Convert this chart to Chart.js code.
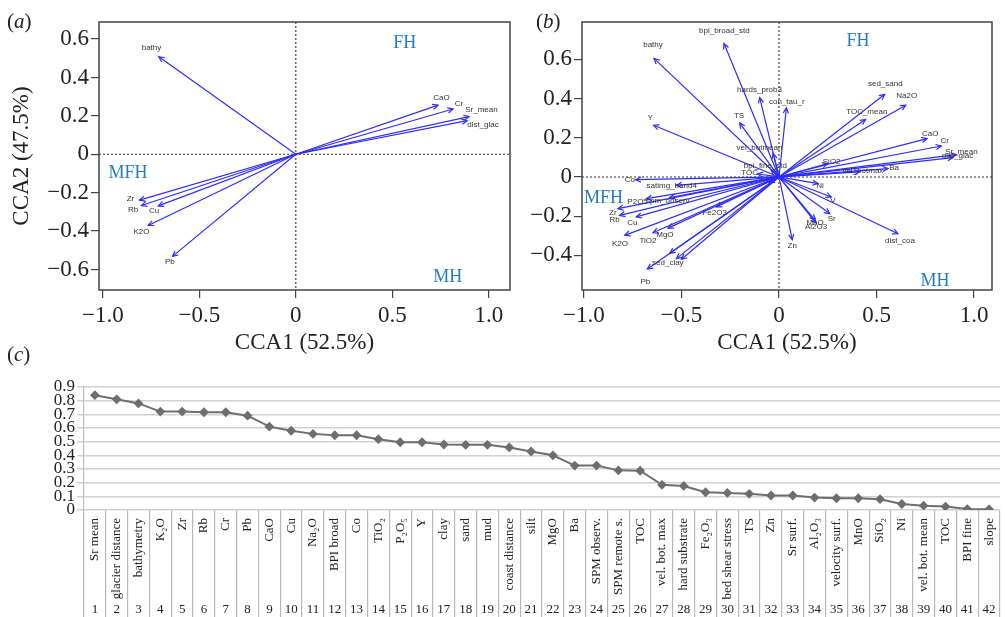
<!DOCTYPE html>
<html>
<head>
<meta charset="utf-8">
<script src="https://cdn.jsdelivr.net/npm/chart.js@4.4.0/dist/chart.umd.min.js"></script>
<style>
body { margin: 0; background: #fff; width: 1006px; height: 617px; overflow: hidden; position: relative; font-family: "Liberation Serif", serif; }
.pan { position: absolute; }
.tag { position: absolute; font-size: 21px; color: #222; line-height: 1; }
</style>
</head>
<body>
<canvas class="pan" id="ca" width="520" height="360" style="left:0;top:0"></canvas>
<canvas class="pan" id="cb" width="491" height="360" style="left:515px;top:0"></canvas>
<canvas class="pan" id="cc" width="1006" height="242" style="left:0;top:375px"></canvas>
<div class="tag" style="left:7px;top:11px">(<i>a</i>)</div>
<div class="tag" style="left:536px;top:11px">(<i>b</i>)</div>
<div class="tag" style="left:7px;top:344px">(<i>c</i>)</div>
<script>
// panel (a) - CCA biplot, selected variables
const aNames = ['bathy', 'CaO', 'Cr', 'Sr_mean', 'dist_glac', 'Zr', 'Rb', 'Cu', 'K2O', 'Pb']
const aTipX = [-0.71, 0.737, 0.815, 0.898, 0.888, -0.81, -0.80, -0.713, -0.765, -0.639]
const aTipY = [0.508, 0.256, 0.236, 0.196, 0.175, -0.239, -0.267, -0.269, -0.371, -0.532]
const aLabX = [-0.748, 0.755, 0.846, 0.962, 0.97, -0.857, -0.843, -0.734, -0.80, -0.653]
const aLabY = [0.555, 0.296, 0.262, 0.23, 0.152, -0.234, -0.29, -0.295, -0.405, -0.56]

// panel (b) - CCA biplot, all variables
const bNames = ['bpi_broad_std', 'bathy', 'hards_prob3', 'con_tau_r', 'TS', 'Y', 'vel_botmean', 'bpi_fine_std', 'TOC',
  'sed_sand', 'Na2O', 'TOC_mean', 'CaO', 'Cr', 'Sr_mean', 'dist_glac', 'SiO2', 'vel_botmax', 'Ba',
  'Ni', 'V', 'Sr', 'MnO', 'Al2O3', 'dist_coa', 'Zn', '',
  'Co', 'satimg_band4', 'spm_observ', 'P2O5', 'Zr', 'Rb', 'Cu', 'K2O', 'TiO2', 'MgO', 'Fe2O3', 'sed_clay', '', '', 'Pb']
const bTipX = [-0.282, -0.641, -0.099, 0.038, -0.202, -0.643, -0.03, -0.04, -0.11,
  0.542, 0.65, 0.444, 0.759, 0.832, 0.909, 0.892, 0.25, 0.414, 0.559,
  0.2, 0.268, 0.26, 0.185, 0.19, 0.61, 0.068, -0.05,
  -0.735, -0.526, -0.56, -0.68, -0.826, -0.817, -0.732, -0.791, -0.646, -0.569, -0.321, -0.526, -0.56, -0.50, -0.675]
const bTipY = [0.681, 0.605, 0.405, 0.353, 0.276, 0.264, 0.12, 0.035, 0.015,
  0.422, 0.366, 0.293, 0.196, 0.158, 0.114, 0.099, 0.068, 0.026, 0.043,
  -0.034, -0.102, -0.187, -0.22, -0.235, -0.29, -0.32, -0.03,
  -0.014, -0.043, -0.105, -0.111, -0.162, -0.196, -0.204, -0.298, -0.285, -0.261, -0.153, -0.417, -0.39, -0.42, -0.47]
const bLabX = [-0.28, -0.646, -0.10, 0.04, -0.205, -0.66, -0.1, -0.07, -0.15,
  0.545, 0.655, 0.45, 0.775, 0.85, 0.935, 0.915, 0.27, 0.43, 0.59,
  0.21, 0.277, 0.27, 0.185, 0.19, 0.62, 0.068, 0,
  -0.765, -0.55, -0.57, -0.725, -0.852, -0.843, -0.752, -0.815, -0.672, -0.585, -0.33, -0.57, 0, 0, -0.685]
const bLabY = [0.745, 0.673, 0.443, 0.383, 0.31, 0.30, 0.148, 0.055, 0.02,
  0.478, 0.412, 0.332, 0.222, 0.184, 0.13, 0.108, 0.077, 0.03, 0.046,
  -0.046, -0.12, -0.213, -0.232, -0.255, -0.328, -0.352, 0,
  -0.017, -0.046, -0.12, -0.128, -0.185, -0.22, -0.235, -0.343, -0.327, -0.295, -0.185, -0.44, 0, 0, -0.533]

const quadNames = ['FH', 'MFH', 'MH']
const aQuadX = [0.565, -0.87, 0.788]
const aQuadY = [0.58, -0.097, -0.64]
const bQuadX = [0.405, -0.90, 0.80]
const bQuadY = [0.694, -0.107, -0.53]

const xTicks = [-1, -0.5, 0, 0.5, 1]
const aYTicks = [-0.6, -0.4, -0.2, 0, 0.2, 0.4, 0.6]
const bYTicks = [-0.4, -0.2, 0, 0.2, 0.4, 0.6]

// panel (c) - ranked importance
const cLabels = ['Sr mean', 'glacier distance', 'bathymetry', 'K\u2082O', 'Zr', 'Rb', 'Cr', 'Pb', 'CaO', 'Cu',
  'Na\u2082O', 'BPI broad', 'Co', 'TiO\u2082', 'P\u2082O\u2085', 'Y', 'clay', 'sand', 'mud', 'coast distance',
  'silt', 'MgO', 'Ba', 'SPM observ.', 'SPM remote s.', 'TOC', 'vel. bot. max', 'hard substrate', 'Fe\u2082O\u2083', 'bed shear stress',
  'TS', 'Zn', 'Sr surf.', 'Al\u2082O\u2083', 'velocity surf.', 'MnO', 'SiO\u2082', 'Ni', 'vel. bot. mean', 'TOC',
  'BPI fine', 'slope']
const cValues = [0.84, 0.81, 0.78, 0.72, 0.72, 0.715, 0.715, 0.69, 0.61, 0.58,
  0.557, 0.547, 0.547, 0.518, 0.496, 0.496, 0.479, 0.477, 0.477, 0.458,
  0.428, 0.40, 0.325, 0.325, 0.29, 0.287, 0.184, 0.176, 0.13, 0.125,
  0.118, 0.106, 0.106, 0.091, 0.086, 0.086, 0.079, 0.044, 0.032, 0.025,
  0.007, 0.005]
const cNumbers = cLabels.map((l, i) => String(i + 1))
const cYTicks = [0, 0.1, 0.2, 0.3, 0.4, 0.5, 0.6, 0.7, 0.8, 0.9]

const arrowColor = 'rgb(45,45,250)'
const quadColor = 'rgb(35,125,195)'
const serif = 'Liberation Serif'

const fmt = v => v === 0 ? '0' : v.toFixed(1).replace('-', '\u2212')

const biplotDraw = {
  id: 'biplotDraw',
  beforeDatasetsDraw(chart) {
    const {ctx, chartArea: a, scales: {x, y}} = chart
    const x0 = x.getPixelForValue(0)
    const y0 = y.getPixelForValue(0)
    ctx.save()
    ctx.strokeStyle = '#333'
    ctx.lineWidth = 1.1
    ctx.setLineDash([2, 2])
    ctx.beginPath()
    ctx.moveTo(x0, a.top); ctx.lineTo(x0, a.bottom)
    ctx.moveTo(a.left, y0); ctx.lineTo(a.right, y0)
    ctx.stroke()
    ctx.restore()
  },
  afterDatasetsDraw(chart, args, opts) {
    const {ctx, chartArea: a, scales: {x, y}} = chart
    ctx.save()
    // arrow heads
    ctx.strokeStyle = arrowColor
    ctx.lineWidth = 1.2
    chart.data.datasets.forEach((ds, i) => {
      const pts = chart.getDatasetMeta(i).data
      const p0 = pts[0], p1 = pts[1]
      const ang = Math.atan2(p1.y - p0.y, p1.x - p0.x)
      ctx.beginPath()
      ctx.moveTo(p1.x - 6 * Math.cos(ang - 0.45), p1.y - 6 * Math.sin(ang - 0.45))
      ctx.lineTo(p1.x, p1.y)
      ctx.lineTo(p1.x - 6 * Math.cos(ang + 0.45), p1.y - 6 * Math.sin(ang + 0.45))
      ctx.stroke()
    })
    // variable names
    ctx.fillStyle = '#333'
    ctx.font = '8px "Liberation Sans"'
    ctx.textAlign = 'center'
    ctx.textBaseline = 'middle'
    opts.names.forEach((n, i) => {
      if (n) ctx.fillText(n, x.getPixelForValue(opts.lx[i]), y.getPixelForValue(opts.ly[i]))
    })
    // habitat labels
    ctx.fillStyle = quadColor
    ctx.font = '18px "' + serif + '"'
    quadNames.forEach((n, i) => {
      ctx.fillText(n, x.getPixelForValue(opts.qx[i]), y.getPixelForValue(opts.qy[i]))
    })
    // frame
    ctx.strokeStyle = '#444'
    ctx.lineWidth = 1.5
    ctx.strokeRect(a.left, a.top, a.right - a.left, a.bottom - a.top)
    ctx.restore()
  }
}

function biplot(id, names, tx, ty, lx, ly, qx, qy, xr, yr, yTicks, yW, padR, yTitle) {
  const datasets = tx.map((v, i) => ({
    data: [{x: 0, y: 0}, {x: v, y: ty[i]}],
    showLine: true,
    pointRadius: 0,
    borderColor: arrowColor,
    borderWidth: 1.2
  }))
  const tickFont = {family: serif, size: 23, lineHeight: 1}
  return new Chart(document.getElementById(id), {
    type: 'scatter',
    data: {datasets},
    plugins: [biplotDraw],
    options: {
      responsive: false,
      animation: false,
      layout: {padding: {top: 22, right: padR, left: 0, bottom: 0}},
      plugins: {
        legend: {display: false},
        tooltip: {enabled: false},
        biplotDraw: {names, lx, ly, qx, qy}
      },
      scales: {
        x: {
          type: 'linear', min: xr[0], max: xr[1],
          afterBuildTicks: s => { s.ticks = xTicks.map(v => ({value: v})) },
          afterFit: s => { s.height = 70 },
          grid: {drawOnChartArea: false, tickLength: 8, color: '#444', lineWidth: 1.2},
          border: {display: false},
          ticks: {font: tickFont, color: '#222', padding: 6, autoSkip: false, maxRotation: 0, callback: fmt},
          title: {display: true, text: 'CCA1 (52.5%)', color: '#222', font: tickFont, padding: {top: 0, bottom: 6}}
        },
        y: {
          type: 'linear', min: yr[0], max: yr[1],
          afterBuildTicks: s => { s.ticks = yTicks.map(v => ({value: v})) },
          afterFit: s => { s.width = yW },
          grid: {drawOnChartArea: false, tickLength: 8, color: '#444', lineWidth: 1.2},
          border: {display: false},
          ticks: {font: tickFont, color: '#222', padding: 2, autoSkip: false, callback: fmt},
          title: {display: !!yTitle, text: yTitle, color: '#222', font: tickFont, padding: {top: 10, bottom: 0}}
        }
      }
    }
  })
}

biplot('ca', aNames, aTipX, aTipY, aLabX, aLabY, aQuadX, aQuadY, [-1.02, 1.11], [-0.707, 0.689], aYTicks, 99, 10, 'CCA2 (47.5%)')
biplot('cb', bNames, bTipX, bTipY, bLabX, bLabY, bQuadX, bQuadY, [-1.01, 1.092], [-0.577, 0.791], bYTicks, 67, 14, '')

new Chart(document.getElementById('cc'), {
  type: 'line',
  data: {
    labels: cLabels,
    datasets: [{
      data: cValues,
      borderColor: '#6e6e6e',
      backgroundColor: '#6e6e6e',
      borderWidth: 2,
      pointStyle: 'rectRot',
      pointRadius: 3.5,
      tension: 0,
      xAxisID: 'x',
      yAxisID: 'y'
    }]
  },
  options: {
    responsive: false,
    animation: false,
    layout: {padding: {top: 12, right: 1, left: 0, bottom: 0}},
    plugins: {legend: {display: false}, tooltip: {enabled: false}},
    scales: {
      x: {
        position: 'bottom', weight: 0, offset: true,
        afterFit: s => { s.height = 93 },
        grid: {offset: true, drawOnChartArea: false, tickLength: 107, color: '#b8b8b8', lineWidth: 1.2},
        border: {display: false},
        ticks: {minRotation: 90, maxRotation: 90, autoSkip: false, padding: -99, color: '#222', font: {family: serif, size: 13}}
      },
      n: {
        type: 'category', labels: cNumbers, position: 'bottom', weight: 1, offset: true,
        afterFit: s => { s.height = 14 },
        grid: {display: false, drawTicks: false},
        border: {display: false},
        ticks: {autoSkip: false, maxRotation: 0, padding: 0, color: '#222', font: {family: serif, size: 13, lineHeight: 1}}
      },
      y: {
        min: 0, max: 0.9,
        afterBuildTicks: s => { s.ticks = cYTicks.map(v => ({value: v})) },
        afterFit: s => { s.width = 84 },
        grid: {color: '#d2d2d2', lineWidth: 1.5, tickLength: 7},
        border: {color: '#bdbdbd', width: 1.2},
        ticks: {autoSkip: false, padding: 2, color: '#222', font: {family: serif, size: 17, lineHeight: 1}, callback: v => v === 0 ? '0' : v.toFixed(1)}
      }
    }
  }
})
</script>
</body>
</html>
